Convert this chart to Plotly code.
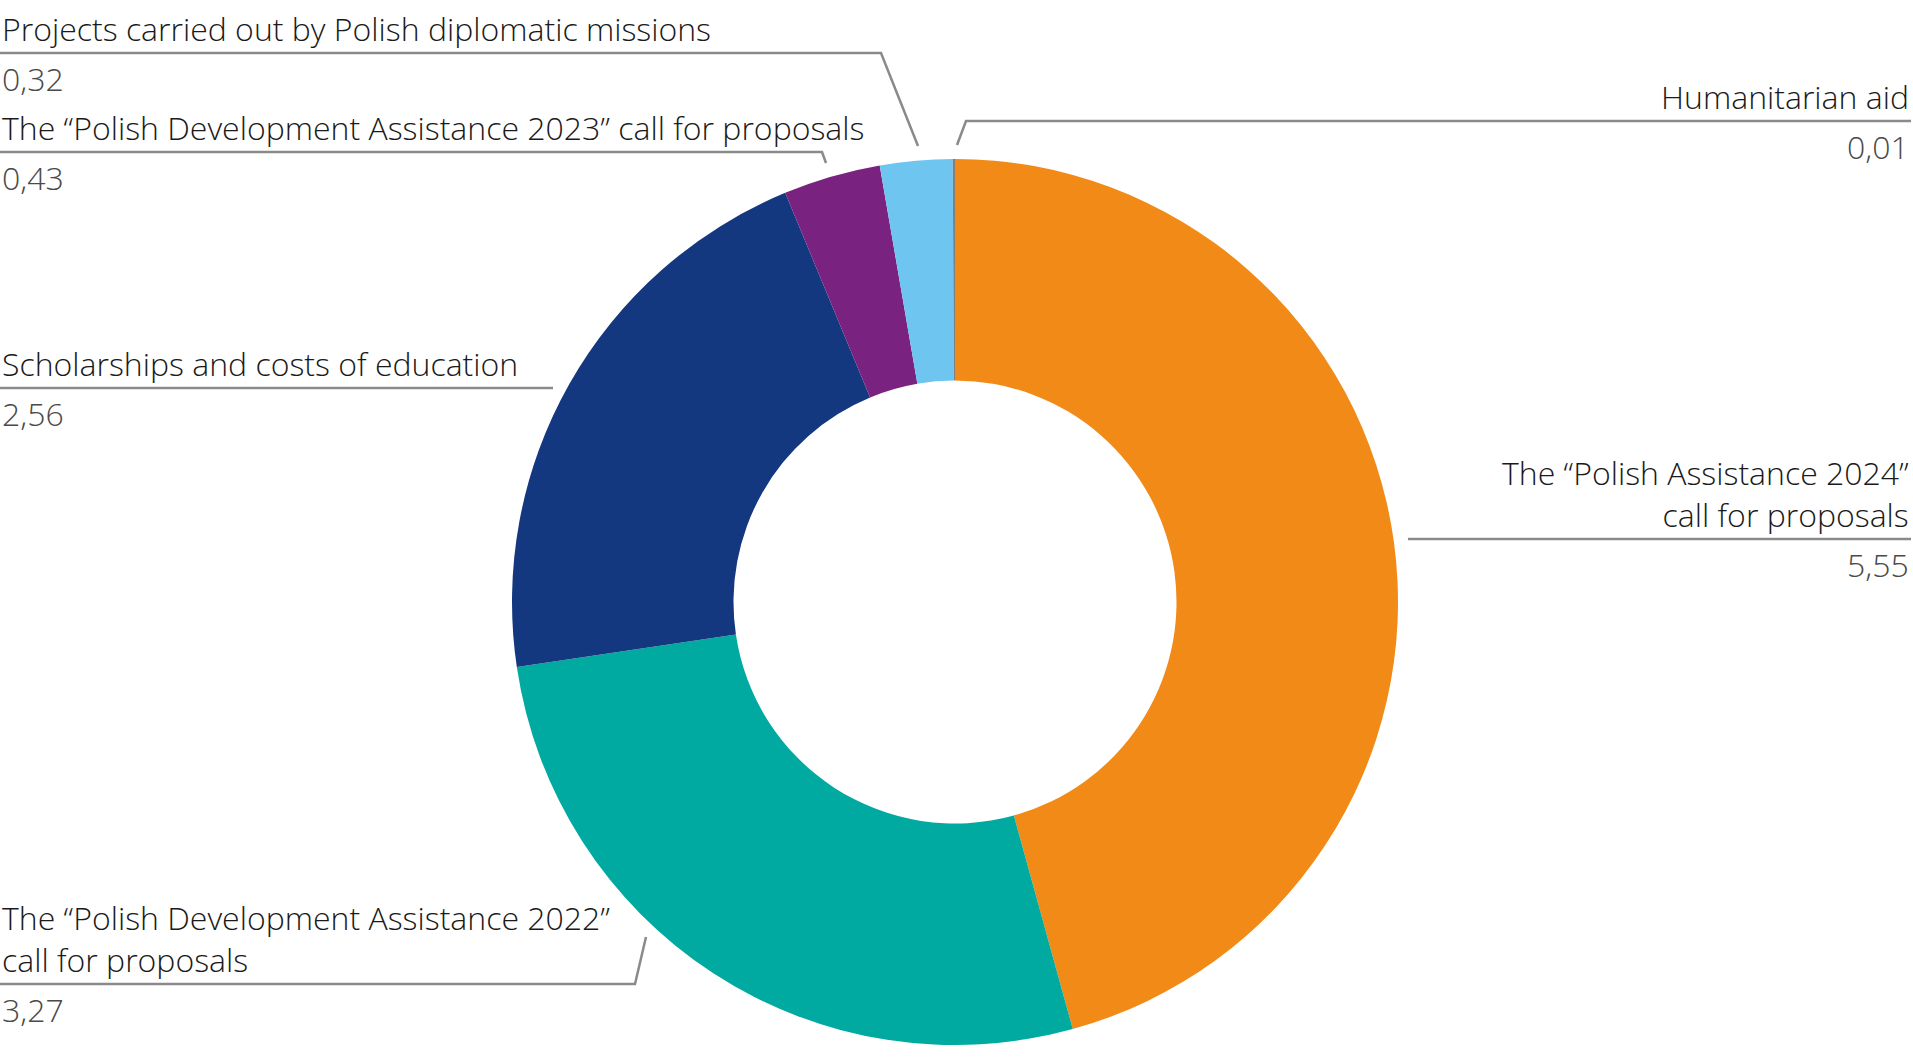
import plotly.graph_objects as go

# datos del grafico (mln PLN)
categorias = [
    'The “Polish Assistance 2024”<br>call for proposals',
    'The “Polish Development Assistance 2022”<br>call for proposals',
    'Scholarships and costs of education',
    'The “Polish Development Assistance 2023” call for proposals',
    'Projects carried out by Polish diplomatic missions',
    'Humanitarian aid',
]
valores = [5.55, 3.27, 2.56, 0.43, 0.32, 0.01]
etiquetas_valor = ['5,55', '3,27', '2,56', '0,43', '0,32', '0,01']
colores = ['#F28A17', '#00AAA0', '#14387F', '#7A2280', '#6EC6F0', '#808080']

W, H = 1913, 1063
fuente = 'Open Sans'


def px(x):
    return x / W


def py_(y):
    return 1 - y / H


fig = go.Figure()
fig.add_trace(go.Pie(
    labels=categorias, values=valores, sort=False, direction='clockwise', rotation=0,
    hole=0.5, marker=dict(colors=colores, line=dict(width=0)),
    textinfo='none', hoverinfo='skip', showlegend=False,
    domain=dict(x=[px(955 - 443), px(955 + 443)], y=[py_(602 + 443), py_(602 - 443)]),
))

# posicion de cada etiqueta: (x, linea, alineacion, trazo guia)
guias = [
    (1911, 539, 'right', [(1408, 539), (1911, 539)]),
    (0, 984, 'left', [(0, 984), (635, 984), (646, 937)]),
    (0, 388, 'left', [(0, 388), (553, 388)]),
    (0, 152, 'left', [(0, 152), (822, 152), (826, 163)]),
    (0, 53, 'left', [(0, 53), (881, 53), (918, 146)]),
    (1911, 121, 'right', [(1911, 121), (966, 121), (957, 145)]),
]

for cat, val, (x, yl, al, pts) in zip(categorias, etiquetas_valor, guias):
    path = 'M ' + ' L '.join(f'{px(a)} {py_(b)}' for a, b in pts)
    fig.add_shape(type='path', path=path, xref='paper', yref='paper',
                  line=dict(color='#8a8a8a', width=2.5))
    fig.add_annotation(x=px(x), y=py_(yl - 1), xref='paper', yref='paper',
                       text=cat, showarrow=False, xanchor=al, yanchor='bottom', align=al,
                       font=dict(family=fuente, size=32, color='#1a1a1a', weight=300))
    fig.add_annotation(x=px(x), y=py_(yl + 2), xref='paper', yref='paper',
                       text=val, showarrow=False, xanchor=al, yanchor='top', align=al,
                       font=dict(family=fuente, size=32, color='#4a4a4a', weight=300))

fig.update_layout(width=W, height=H, margin=dict(l=0, r=0, t=0, b=0),
                  paper_bgcolor='white', plot_bgcolor='white')

fig.write_html('out.html', config={'displayModeBar': False},
               post_script="document.body.style.margin='0';")
